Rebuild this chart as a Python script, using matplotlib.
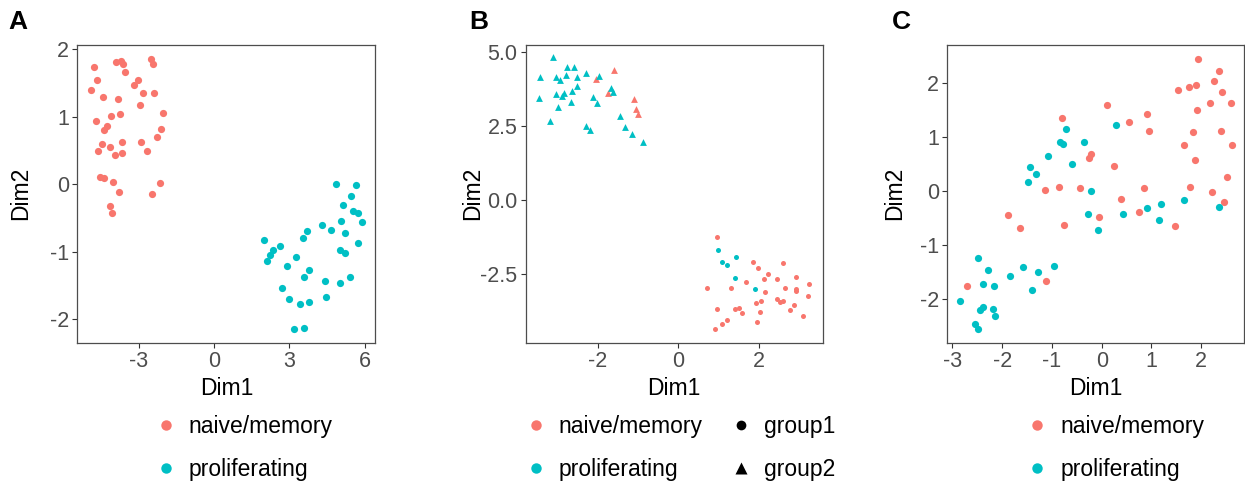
import matplotlib
matplotlib.use("Agg")
import matplotlib.pyplot as plt
from matplotlib.lines import Line2D
import numpy as np

plt.rcParams['font.family'] = ['Liberation Sans', 'DejaVu Sans']

RED = "#F8766D"
CYAN = "#00BFC4"

# panel A: two clearly separated clusters
a_nm_x = [-4.80, -4.65, -4.89, -4.44, -3.91, -3.72, -3.62, -3.55, -3.84, -3.19,
          -3.05, -2.82, -2.94, -2.53, -2.42, -2.38, -2.03, -4.11, -3.75, -4.71,
          -4.28, -4.40, -2.10, -2.29, -4.45, -4.61, -4.15, -3.95, -3.68, -3.66,
          -2.93, -2.67, -4.55, -4.38, -4.02, -3.80, -2.14, -2.46, -4.16, -4.07]
a_nm_y = [1.74, 1.54, 1.40, 1.30, 1.81, 1.83, 1.78, 1.67, 1.27, 1.47,
          1.54, 1.35, 1.17, 1.86, 1.78, 1.35, 1.06, 1.01, 1.04, 0.94,
          0.87, 0.81, 0.82, 0.70, 0.59, 0.50, 0.55, 0.43, 0.62, 0.46,
          0.62, 0.50, 0.10, 0.09, 0.04, -0.12, 0.02, -0.15, -0.32, -0.43]
a_pr_x = [4.87, 5.65, 5.45, 5.15, 5.53, 5.72, 5.89, 5.07, 4.31, 4.65,
          5.23, 3.71, 3.56, 2.01, 2.63, 2.35, 2.23, 2.13, 2.91, 3.26,
          5.01, 5.23, 5.72, 3.78, 3.60, 4.44, 5.01, 5.40, 2.69, 2.98,
          3.42, 3.80, 4.45, 3.20, 3.59]
a_pr_y = [0.00, -0.01, -0.17, -0.31, -0.39, -0.42, -0.56, -0.54, -0.61, -0.68,
          -0.72, -0.70, -0.80, -0.83, -0.91, -0.98, -1.05, -1.14, -1.21, -1.08,
          -0.97, -1.02, -0.87, -1.28, -1.38, -1.44, -1.47, -1.38, -1.54, -1.71,
          -1.78, -1.75, -1.67, -2.15, -2.13]

# panel B: cell type by colour, group by shape
b_g2_nm_x = [-2.03, -1.60, -1.75, -1.09, -1.06, -1.00]
b_g2_nm_y = [4.10, 4.39, 3.63, 3.40, 3.08, 2.89]
b_g2_pr_x = [-3.10, -3.42, -3.45, -3.03, -2.92, -2.76, -2.59, -2.77, -2.50, -2.28,
             -2.52, -2.64, -3.04, -2.83, -2.88, -2.66, -2.99, -3.18, -2.12, -2.01,
             -1.97, -1.66, -1.63, -1.44, -2.29, -2.19, -1.31, -1.16, -0.87]
b_g2_pr_y = [4.82, 4.15, 3.45, 4.17, 4.07, 4.49, 4.50, 4.23, 4.17, 4.31,
             3.85, 3.69, 3.57, 3.62, 3.52, 3.31, 3.13, 2.68, 3.48, 3.27,
             4.18, 3.79, 3.65, 2.83, 2.50, 2.35, 2.45, 2.24, 1.96]
b_g1_nm_x = [0.96, 0.70, 1.84, 1.97, 1.68, 1.30, 2.21, 2.12, 2.58, 2.45,
             2.92, 2.15, 2.63, 2.90, 2.91, 3.24, 3.20, 2.43, 2.51, 2.58,
             2.87, 2.75, 3.09, 1.92, 2.05, 2.01, 1.94, 1.58, 1.49, 1.40,
             0.95, 1.20, 1.07, 0.91]
b_g1_nm_y = [-1.27, -2.99, -2.12, -2.32, -2.79, -3.00, -2.53, -2.67, -2.13, -2.70,
             -2.61, -3.11, -2.98, -3.10, -3.04, -2.87, -3.27, -3.35, -3.46, -3.44,
             -3.56, -3.72, -3.95, -3.51, -3.44, -3.81, -4.13, -3.85, -3.67, -3.70,
             -3.71, -4.08, -4.20, -4.38]
b_g1_pr_x = [0.99, 1.07, 1.21, 1.42, 1.40, 1.90]
b_g1_pr_y = [-1.71, -2.12, -2.21, -1.95, -2.64, -3.02]

# panel C: overlapping populations
c_nm_x = [-2.71, -1.88, -1.64, -1.12, -1.13, -0.86, -0.80, -0.76, -0.43, -0.25,
          -0.22, -0.05, 0.11, 0.25, 0.38, 0.54, 0.74, 0.86, 0.92, 0.95,
          1.48, 1.53, 1.66, 1.76, 1.77, 1.84, 1.88, 1.90, 1.92, 1.93,
          2.17, 2.22, 2.25, 2.35, 2.39, 2.42, 2.45, 2.51, 2.60, 2.61]
c_nm_y = [-1.75, -0.44, -0.69, -1.66, 0.02, 0.07, 1.35, -0.63, 0.05, 0.62,
          0.68, -0.47, 1.59, 0.46, -0.15, 1.27, -0.39, 0.06, 1.42, 1.11,
          -0.64, 1.87, 0.86, 1.93, 0.07, 1.10, 0.57, 1.97, 1.50, 2.44,
          1.63, -0.02, 2.04, 2.22, 1.11, 1.83, -0.20, 0.26, 1.63, 0.86]
c_pr_x = [-2.84, -2.48, -2.38, -2.28, -2.17, -2.44, -2.38, -2.18, -2.15, -2.55,
          -2.49, -1.84, -1.58, -1.40, -1.29, -0.95, -1.49, -1.45, -1.32, -1.07,
          -0.84, -0.77, -0.71, -0.60, -0.35, -0.27, -0.21, -0.08, 0.29, 0.43,
          0.91, 1.15, 1.19, 1.66, 2.35]
c_pr_y = [-2.03, -1.23, -1.72, -1.45, -1.76, -2.20, -2.14, -2.17, -2.30, -2.46,
          -2.54, -1.56, -1.40, -1.82, -1.50, -1.39, 0.17, 0.44, 0.32, 0.65,
          0.90, 0.87, 1.14, 0.50, 0.91, -0.42, 0.00, -0.72, 1.22, -0.42,
          -0.31, -0.54, -0.23, -0.16, -0.29]

cell_labels = ["naive/memory", "proliferating"]
group_labels = ["group1", "group2"]


def style_axes(ax, xticks, yticks, xfmt="{:g}", yfmt="{:g}"):
    for sp in ax.spines.values():
        sp.set_color("#4D4D4D")
        sp.set_linewidth(0.9)
    ax.set_xticks(xticks)
    ax.set_yticks(yticks)
    ax.set_xticklabels([xfmt.format(t) for t in xticks])
    ax.set_yticklabels([yfmt.format(t) for t in yticks])
    ax.tick_params(length=3.5, width=0.8, color="#333333",
                   labelsize=15.5, labelcolor="#4D4D4D", pad=2.5)
    ax.set_xlabel("Dim1", fontsize=16.5)
    ax.set_ylabel("Dim2", fontsize=16.5)
    ax.xaxis.set_label_coords(0.5, -0.115)


def cell_legend(ax, x, y):
    handles = [Line2D([], [], ls="", marker="o", ms=7.5, color=RED, mec="none"),
               Line2D([], [], ls="", marker="o", ms=7.5, color=CYAN, mec="none")]
    return ax.legend(handles, cell_labels, loc="upper left",
                     bbox_to_anchor=(x, y), bbox_transform=fig.transFigure,
                     frameon=False, fontsize=16.5, borderpad=0, borderaxespad=0,
                     handlelength=0.9, handletextpad=0.55, labelspacing=0.88)


fig = plt.figure(figsize=(12.45, 4.88), dpi=100)
ax_a = fig.add_axes([0.0621, 0.298, 0.2394, 0.6096])
ax_b = fig.add_axes([0.4222, 0.298, 0.2386, 0.6096])
ax_c = fig.add_axes([0.7610, 0.298, 0.2382, 0.6096])

# A
ax_a.scatter(a_nm_x, a_nm_y, s=27, color=RED, linewidths=0)
ax_a.scatter(a_pr_x, a_pr_y, s=27, color=CYAN, linewidths=0)
ax_a.set_xlim(-5.45, 6.43)
ax_a.set_ylim(-2.35, 2.065)
style_axes(ax_a, [-3, 0, 3, 6], [-2, -1, 0, 1, 2])
ax_a.yaxis.set_label_coords(-0.15, 0.5)
cell_legend(ax_a, 0.125, 0.149)

# B
ax_b.scatter(b_g1_nm_x, b_g1_nm_y, s=13, marker="o", color=RED, linewidths=0)
ax_b.scatter(b_g1_pr_x, b_g1_pr_y, s=13, marker="o", color=CYAN, linewidths=0)
ax_b.scatter(b_g2_nm_x, b_g2_nm_y, s=24, marker="^", color=RED, linewidths=0)
ax_b.scatter(b_g2_pr_x, b_g2_pr_y, s=24, marker="^", color=CYAN, linewidths=0)
ax_b.set_xlim(-3.78, 3.57)
ax_b.set_ylim(-4.84, 5.24)
style_axes(ax_b, [-2, 0, 2], [-2.5, 0.0, 2.5, 5.0], yfmt="{:.1f}")
ax_b.yaxis.set_label_coords(-0.14, 0.5)
leg_cells = cell_legend(ax_b, 0.422, 0.149)
ax_b.add_artist(leg_cells)
shape_handles = [Line2D([], [], ls="", marker="o", ms=7, color="black", mec="none"),
                 Line2D([], [], ls="", marker="^", ms=8, color="black", mec="none")]
ax_b.legend(shape_handles, group_labels, loc="upper left",
            bbox_to_anchor=(0.587, 0.149), bbox_transform=fig.transFigure,
            frameon=False, fontsize=16.5, borderpad=0, borderaxespad=0,
            handlelength=0.9, handletextpad=0.55, labelspacing=0.88)

# C
ax_c.scatter(c_nm_x, c_nm_y, s=27, color=RED, linewidths=0)
ax_c.scatter(c_pr_x, c_pr_y, s=27, color=CYAN, linewidths=0)
ax_c.set_xlim(-3.10, 2.86)
ax_c.set_ylim(-2.80, 2.70)
style_axes(ax_c, [-3, -2, -1, 0, 1, 2], [-2, -1, 0, 1, 2])
ax_c.yaxis.set_label_coords(-0.14, 0.5)
cell_legend(ax_c, 0.825, 0.149)

for letter, xpos in zip(["A", "B", "C"], [0.007, 0.377, 0.716]):
    fig.text(xpos, 0.98, letter, fontsize=19, fontweight="bold", va="top", ha="left")

fig.savefig("out.png", dpi=100)
